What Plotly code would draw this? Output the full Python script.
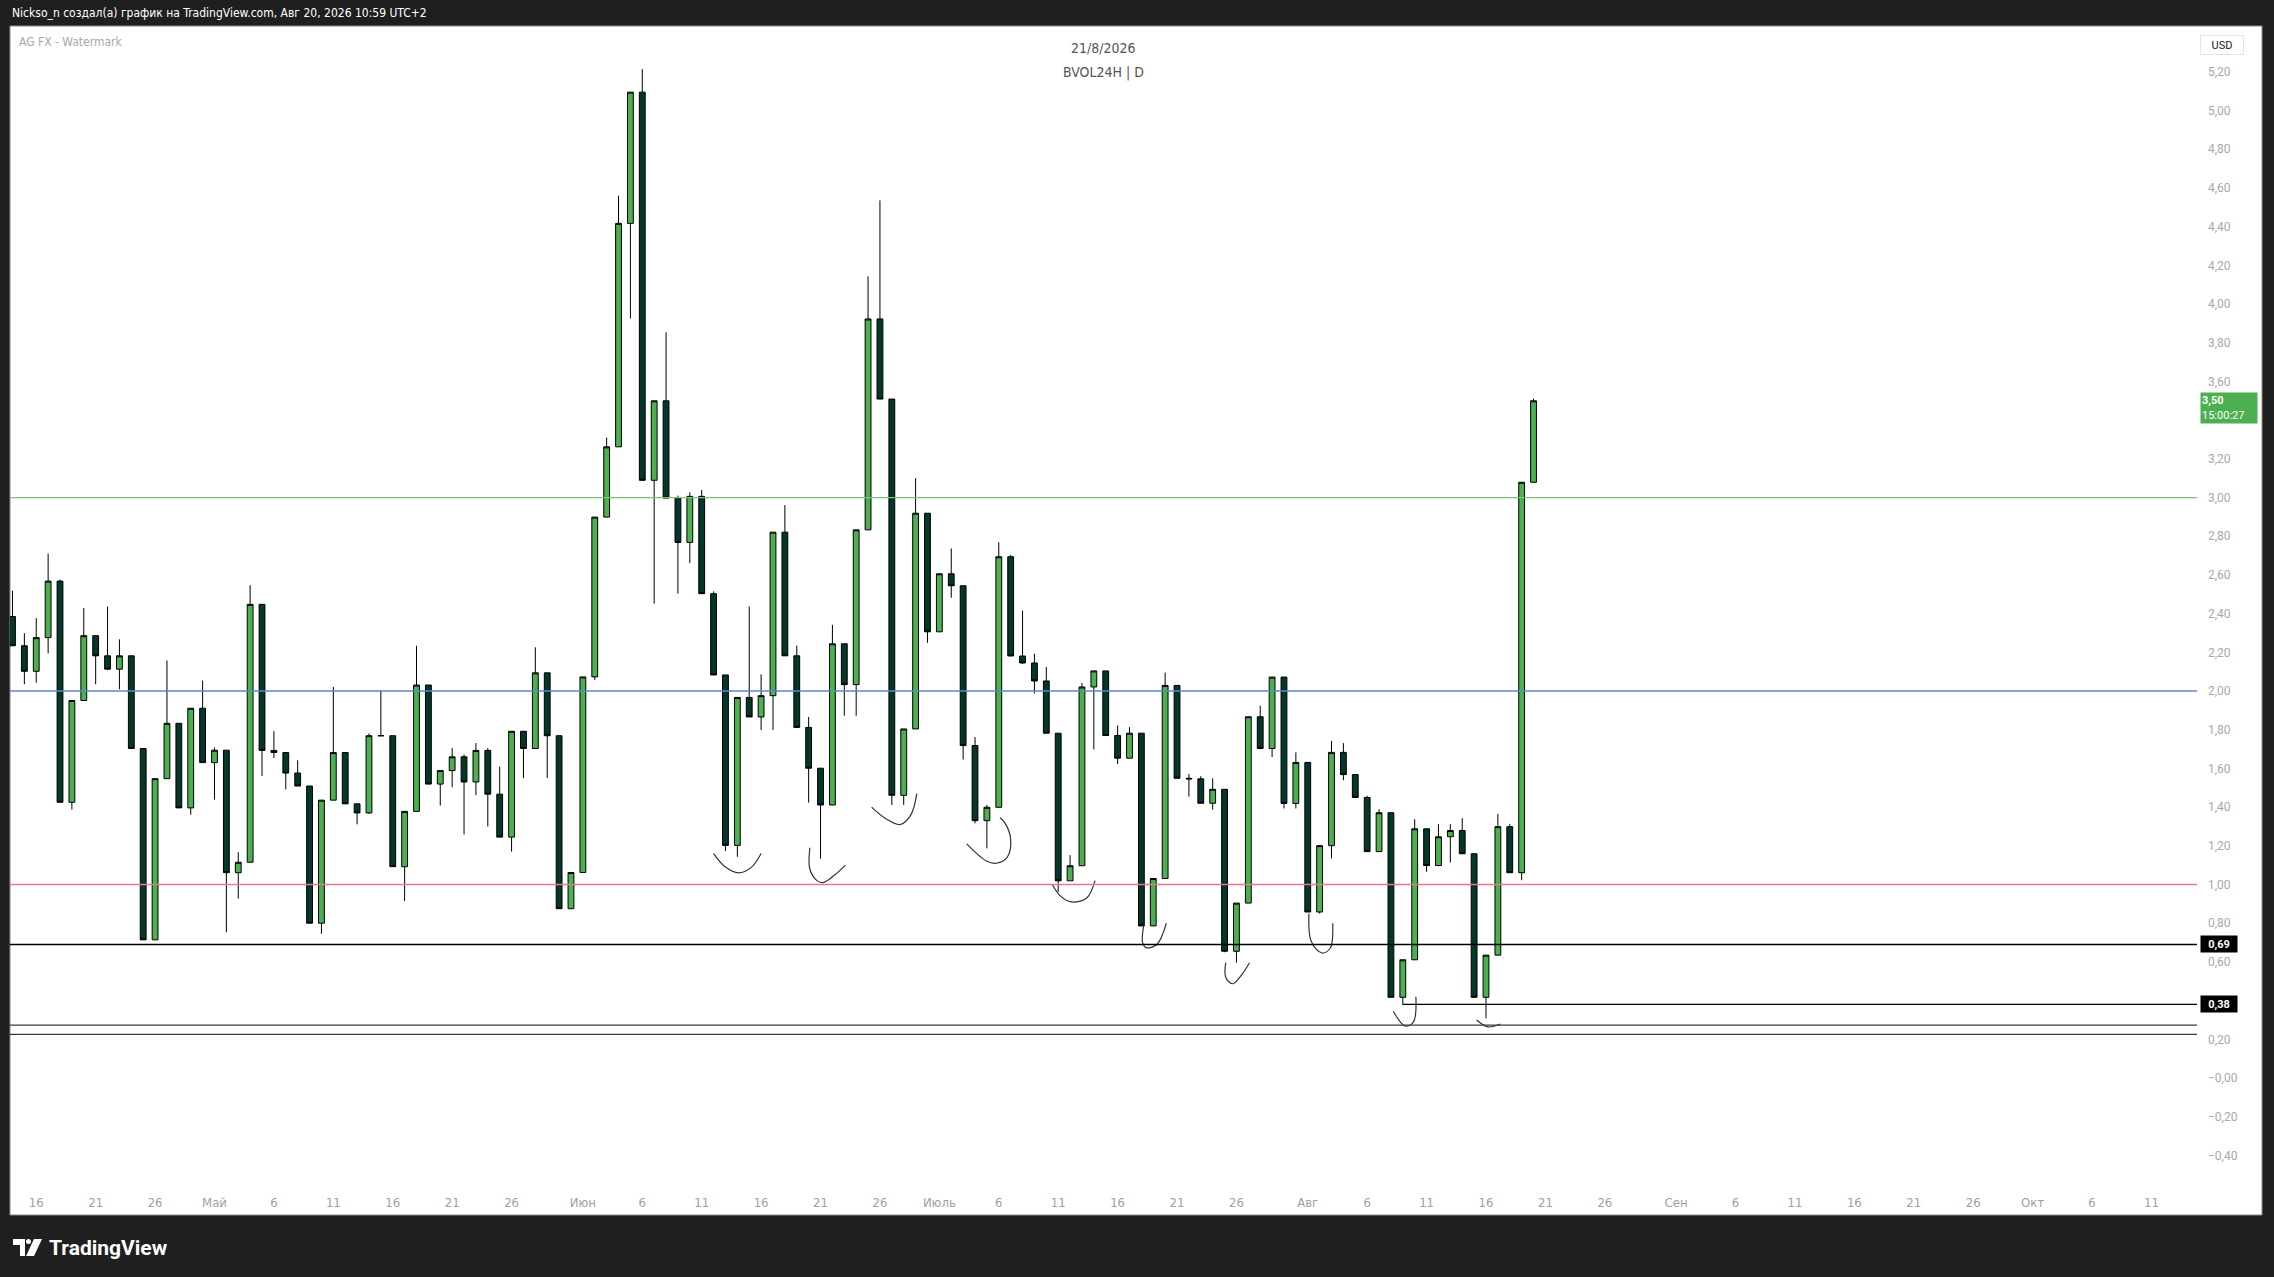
import pandas as pd
import plotly.graph_objects as go

# canvas and pane in pixels
W, H = 2274, 1277
PL, PR, PT, PB = 10, 2197, 26, 1185

# daily candles BVOL24H, starting 14 Apr 2026
start = "2026-04-14"
opens = [2.385, 2.234, 2.102, 2.276, 2.568, 1.425, 1.951, 2.286, 2.182, 2.113,
         2.182, 1.703, 0.714, 1.547, 1.833, 1.396, 1.911, 1.630, 1.694, 1.061,
         1.115, 2.448, 1.693, 1.682, 1.576, 1.509, 0.800, 1.436, 1.682, 1.417,
         1.370, 1.769, 1.769, 1.092, 1.378, 2.031, 1.519, 1.589, 1.660, 1.530,
         1.693, 1.467, 1.245, 1.792, 1.703, 2.094, 1.769, 0.875, 1.062, 2.073,
         2.899, 3.262, 4.417, 5.095, 3.089, 3.500, 2.997, 2.768, 3.006, 2.503,
         2.083, 1.202, 1.967, 1.866, 1.976, 2.821, 2.182, 1.812, 1.601, 1.411,
         2.244, 2.033, 2.833, 3.923, 3.509, 1.461, 1.804, 2.919, 2.306, 2.606,
         2.544, 1.718, 1.330, 1.399, 2.694, 2.181, 2.145, 2.052, 1.782, 1.019,
         1.097, 2.021, 2.104, 1.770, 1.653, 1.782, 0.786, 1.031, 2.029, 1.549,
         1.546, 1.420, 1.492, 0.655, 0.904, 1.867, 1.703, 2.072, 1.419, 1.631,
         0.858, 1.201, 1.683, 1.568, 1.450, 1.170, 1.371, 0.417, 0.611, 1.288,
         1.098, 1.247, 1.279, 1.159, 0.417, 0.635, 1.299, 1.061, 3.079]
highs = [2.519, 2.299, 2.377, 2.710, 2.576, 1.951, 2.429, 2.286, 2.437, 2.267,
         2.182, 1.703, 1.547, 2.158, 1.833, 1.911, 2.054, 1.708, 1.694, 1.167,
         2.547, 2.448, 1.793, 1.682, 1.642, 1.509, 1.436, 2.021, 1.682, 1.417,
         1.781, 2.005, 1.769, 1.378, 2.234, 2.031, 1.589, 1.705, 1.672, 1.731,
         1.705, 1.609, 1.792, 1.792, 2.226, 2.094, 1.769, 1.062, 2.073, 2.899,
         3.310, 4.560, 5.095, 5.214, 3.500, 3.854, 3.010, 3.027, 3.039, 2.515,
         2.083, 1.967, 2.437, 2.086, 2.821, 2.961, 2.235, 1.866, 1.601, 2.342,
         2.244, 2.833, 4.143, 4.536, 3.509, 1.804, 3.100, 2.919, 2.606, 2.737,
         2.544, 1.762, 1.411, 2.769, 2.703, 2.416, 2.193, 2.124, 1.782, 1.152,
         2.041, 2.104, 2.104, 1.822, 1.813, 1.782, 1.031, 2.095, 2.029, 1.572,
         1.560, 1.549, 1.492, 0.904, 1.867, 1.924, 2.072, 2.072, 1.683, 1.631,
         1.201, 1.742, 1.731, 1.568, 1.459, 1.389, 1.371, 0.611, 1.338, 1.288,
         1.312, 1.312, 1.343, 1.159, 0.635, 1.365, 1.312, 3.079, 3.511]
lows = [2.234, 2.035, 2.043, 2.194, 1.425, 1.387, 1.951, 2.035, 2.108, 2.009,
        1.703, 0.714, 0.714, 1.547, 1.396, 1.361, 1.630, 1.439, 0.753, 0.927,
        1.115, 1.561, 1.654, 1.491, 1.509, 0.800, 0.745, 1.436, 1.417, 1.311,
        1.365, 1.769, 1.092, 0.915, 1.378, 1.519, 1.408, 1.503, 1.259, 1.462,
        1.300, 1.245, 1.170, 1.550, 1.703, 1.550, 0.875, 0.875, 1.062, 2.057,
        2.899, 3.262, 3.926, 3.089, 2.452, 2.997, 2.503, 2.661, 2.503, 2.083,
        1.173, 1.143, 1.866, 1.798, 1.798, 2.182, 1.812, 1.423, 1.134, 1.411,
        1.872, 1.872, 2.833, 3.509, 1.411, 1.411, 1.804, 2.249, 2.306, 2.482,
        1.646, 1.316, 1.187, 1.399, 2.181, 2.140, 1.988, 1.782, 0.962, 1.019,
        1.097, 1.698, 1.770, 1.623, 1.653, 0.786, 0.786, 1.031, 1.549, 1.454,
        1.420, 1.387, 0.650, 0.596, 0.904, 1.700, 1.659, 1.393, 1.393, 0.858,
        0.850, 1.135, 1.539, 1.450, 1.170, 1.170, 0.417, 0.378, 0.611, 1.066,
        1.098, 1.114, 1.159, 0.417, 0.308, 0.635, 1.061, 1.022, 3.079]
closes = [2.234, 2.102, 2.276, 2.568, 1.425, 1.951, 2.286, 2.182, 2.113, 2.182,
          1.703, 0.714, 1.547, 1.833, 1.396, 1.911, 1.630, 1.694, 1.061, 1.115,
          2.448, 1.693, 1.682, 1.576, 1.509, 0.800, 1.436, 1.682, 1.417, 1.370,
          1.769, 1.769, 1.092, 1.378, 2.031, 1.519, 1.589, 1.660, 1.530, 1.693,
          1.467, 1.245, 1.792, 1.703, 2.094, 1.769, 0.875, 1.062, 2.073, 2.899,
          3.262, 4.417, 5.095, 3.089, 3.500, 2.997, 2.768, 3.006, 2.503, 2.083,
          1.202, 1.967, 1.866, 1.976, 2.821, 2.182, 1.812, 1.601, 1.411, 2.244,
          2.033, 2.833, 3.923, 3.509, 1.461, 1.804, 2.919, 2.306, 2.606, 2.544,
          1.718, 1.330, 1.399, 2.694, 2.181, 2.145, 2.052, 1.782, 1.019, 1.097,
          2.021, 2.104, 1.770, 1.653, 1.782, 0.786, 1.031, 2.029, 1.549, 1.546,
          1.420, 1.492, 0.655, 0.904, 1.867, 1.703, 2.072, 1.419, 1.631, 0.858,
          1.201, 1.683, 1.568, 1.450, 1.170, 1.371, 0.417, 0.611, 1.288, 1.098,
          1.247, 1.279, 1.159, 0.417, 0.635, 1.299, 1.061, 3.079, 3.500]
dates = pd.date_range(start, periods=len(opens), freq="D")

# horizontal levels drawn on the chart
level_prices = [3.00, 2.00, 1.00, 0.69, 0.273, 0.225]
level_colors = ["#7fbf7f", "#5b87c9", "#e07b8c", "#000000", "#3a3a3a", "#3a3a3a"]
ray_price = 0.38          # ray from the 9 Aug low
ray_start_index = 117

# hand drawn marks under the lows: (day offset from start, price)
marks = [
    [(59.0, 1.16), (60.0, 1.09), (61.1, 1.06), (62.2, 1.09), (63.0, 1.16)],
    [(67.1, 1.19), (67.1, 1.08), (67.7, 1.02), (68.2, 1.01), (69.2, 1.05), (70.1, 1.10)],
    [(72.3, 1.40), (73.5, 1.34), (74.7, 1.31), (75.6, 1.36), (76.1, 1.47)],
    [(80.3, 1.21), (82.0, 1.12), (82.8, 1.11), (83.7, 1.14), (84.0, 1.235), (83.5, 1.32), (83.1, 1.345)],
    [(87.5, 1.00), (88.2, 0.94), (89.1, 0.91), (90.4, 0.93), (91.1, 1.02)],
    [(95.2, 0.79), (95.1, 0.70), (95.4, 0.674), (96.3, 0.69), (97.1, 0.80)],
    [(102.1, 0.596), (102.1, 0.52), (102.7, 0.487), (103.4, 0.53), (104.1, 0.596)],
    [(109.1, 0.85), (109.3, 0.705), (110.2, 0.646), (110.9, 0.672), (111.1, 0.80)],
    [(116.2, 0.345), (117.2, 0.269), (117.9, 0.29), (118.1, 0.42)],
    [(123.2, 0.30), (124.2, 0.264), (125.2, 0.279)],
]

price_ticks = [5.2, 5.0, 4.8, 4.6, 4.4, 4.2, 4.0, 3.8, 3.6, 3.2, 3.0, 2.8, 2.6, 2.4,
               2.2, 2.0, 1.8, 1.6, 1.4, 1.2, 1.0, 0.8, 0.6, 0.2, 0.0, -0.2, -0.4]
price_labels = ["5,20", "5,00", "4,80", "4,60", "4,40", "4,20", "4,00", "3,80", "3,60",
                "3,20", "3,00", "2,80", "2,60", "2,40", "2,20", "2,00", "1,80", "1,60",
                "1,40", "1,20", "1,00", "0,80", "0,60", "0,20", "\u22120,00", "\u22120,20",
                "\u22120,40"]

date_ticks = ["2026-04-16", "2026-04-21", "2026-04-26", "2026-05-01", "2026-05-06",
              "2026-05-11", "2026-05-16", "2026-05-21", "2026-05-26", "2026-06-01",
              "2026-06-06", "2026-06-11", "2026-06-16", "2026-06-21", "2026-06-26",
              "2026-07-01", "2026-07-06", "2026-07-11", "2026-07-16", "2026-07-21",
              "2026-07-26", "2026-08-01", "2026-08-06", "2026-08-11", "2026-08-16",
              "2026-08-21", "2026-08-26", "2026-09-01", "2026-09-06", "2026-09-11",
              "2026-09-16", "2026-09-21", "2026-09-26", "2026-10-01", "2026-10-06",
              "2026-10-11"]
date_labels = ["16", "21", "26", "Май", "6", "11", "16", "21", "26", "Июн", "6", "11",
               "16", "21", "26", "Июль", "6", "11", "16", "21", "26", "Авг", "6", "11",
               "16", "21", "26", "Сен", "6", "11", "16", "21", "26", "Окт", "6", "11"]

x_range = ["2026-04-13 19:00", "2026-10-14 20:00"]
y_range = [-0.553, 5.437]

NARROW = "Liberation Sans Narrow, DejaVu Sans Condensed, Arial Narrow, sans-serif"
SANS = "Roboto, Liberation Sans, Arial, sans-serif"


def px(x):
    return (x - PL) / (PR - PL)


def py(y):
    return (PB - y) / (PB - PT)


fig = go.Figure()

fig.add_trace(go.Candlestick(
    x=dates, open=opens, high=highs, low=lows, close=closes,
    increasing=dict(fillcolor="#4caf50", line=dict(color="#000000", width=1)),
    decreasing=dict(fillcolor="#04362a", line=dict(color="#000000", width=1)),
    whiskerwidth=0, showlegend=False, hoverinfo="skip",
))

t0 = pd.Timestamp(start)
for m in marks:
    fig.add_trace(go.Scatter(
        x=[t0 + pd.Timedelta(days=d) for d, _ in m], y=[p for _, p in m],
        mode="lines", line=dict(color="#333333", width=1.2, shape="spline"),
        showlegend=False, hoverinfo="skip",
    ))

shapes = []
# light chart panel with its grey border, frame stays dark
shapes.append(dict(type="rect", xref="paper", yref="paper", layer="below",
                   x0=px(10), x1=px(2262), y0=py(1215), y1=py(26),
                   fillcolor="white", line=dict(color="#8a8a8a", width=1)))
for lv, col in zip(level_prices, level_colors):
    shapes.append(dict(type="line", xref="paper", yref="y", x0=0, x1=1, y0=lv, y1=lv,
                       line=dict(color=col, width=1.3)))
shapes.append(dict(type="line", xref="x", yref="y", x0=dates[ray_start_index], x1=x_range[1],
                   y0=ray_price, y1=ray_price, line=dict(color="#000000", width=1.3)))

# TradingView logo
shapes.append(dict(type="path", xref="paper", yref="paper", fillcolor="white", line=dict(width=0),
                   path="M {0},{1} L {2},{1} L {2},{3} L {4},{3} L {4},{5} L {0},{5} Z".format(
                       px(13), py(1239), px(25), py(1256), px(20), py(1245))))
shapes.append(dict(type="circle", xref="paper", yref="paper", fillcolor="white", line=dict(width=0),
                   x0=px(26), x1=px(31), y0=py(1244), y1=py(1239)))
shapes.append(dict(type="path", xref="paper", yref="paper", fillcolor="white", line=dict(width=0),
                   path="M {0},{1} L {2},{1} L {3},{4} L {5},{4} Z".format(
                       px(34), py(1239), px(42), px(34), py(1256), px(26))))

annotations = [
    dict(x=px(10), y=py(13), xref="paper", yref="paper", xanchor="left", yanchor="middle",
         text="Nickso_n создал(а) график на TradingView.com, Авг 20, 2026 10:59 UTC+2",
         showarrow=False, font=dict(family=NARROW, size=12, color="#ffffff")),
    dict(x=px(17), y=py(42), xref="paper", yref="paper", xanchor="left", yanchor="middle",
         text="AG FX - Watermark", showarrow=False,
         font=dict(family=NARROW, size=12, color="#a8a8a8")),
    dict(x=0.5, y=py(48), xref="paper", yref="paper", xanchor="center", yanchor="middle",
         text="21/8/2026", showarrow=False, font=dict(family=NARROW, size=14, color="#555555")),
    dict(x=0.5, y=py(72), xref="paper", yref="paper", xanchor="center", yanchor="middle",
         text="BVOL24H | D", showarrow=False, font=dict(family=NARROW, size=14, color="#555555")),
    dict(x=px(47), y=py(1248), xref="paper", yref="paper", xanchor="left", yanchor="middle",
         text="<b>TradingView</b>", showarrow=False,
         font=dict(family=SANS, size=21, color="#ffffff")),
    dict(x=px(2200), y=py(45), xref="paper", yref="paper", xanchor="left", yanchor="middle",
         text="USD", showarrow=False, width=40, height=16, bgcolor="#ffffff",
         bordercolor="#e3e3e3", borderwidth=1, font=dict(family=SANS, size=11, color="#222222")),
    dict(x=px(2200), y=closes[-1], xref="paper", yref="y", xanchor="left", yanchor="middle",
         yshift=-7, text="<b>3,50</b><br>15:00:27", showarrow=False, align="left",
         width=54, height=28, bgcolor="#4caf50",
         font=dict(family=SANS, size=11, color="#ffffff")),
    dict(x=px(2200), y=0.69, xref="paper", yref="y", xanchor="left", yanchor="middle",
         text="<b>0,69</b>", showarrow=False, width=34, height=14, bgcolor="#000000",
         font=dict(family=SANS, size=11, color="#ffffff")),
    dict(x=px(2200), y=ray_price, xref="paper", yref="y", xanchor="left", yanchor="middle",
         text="<b>0,38</b>", showarrow=False, width=34, height=14, bgcolor="#000000",
         font=dict(family=SANS, size=11, color="#ffffff")),
]

fig.update_layout(
    width=W, height=H,
    margin=dict(l=PL, r=W - PR, t=PT, b=H - PB, autoexpand=False),
    paper_bgcolor="#1f1f1f",
    plot_bgcolor="#ffffff",
    showlegend=False,
    boxgap=0.3,
    shapes=shapes,
    annotations=annotations,
    xaxis=dict(
        type="date", range=x_range, rangeslider=dict(visible=False),
        showgrid=False, zeroline=False, showline=False, ticks="",
        tickvals=date_ticks, ticktext=date_labels, ticklabelstandoff=8,
        tickfont=dict(family=NARROW, size=13, color="#a0a0a0"),
    ),
    yaxis=dict(
        side="right", range=y_range,
        showgrid=False, zeroline=False, showline=False, ticks="",
        tickvals=price_ticks, ticktext=price_labels, ticklabelstandoff=10,
        tickfont=dict(family=SANS, size=12, color="#a5a8b0"),
    ),
)

# page body margin would push the figure off by 8px
fig.write_html("out.html", config={"displayModeBar": False},
               post_script="document.body.style.margin='0';")
